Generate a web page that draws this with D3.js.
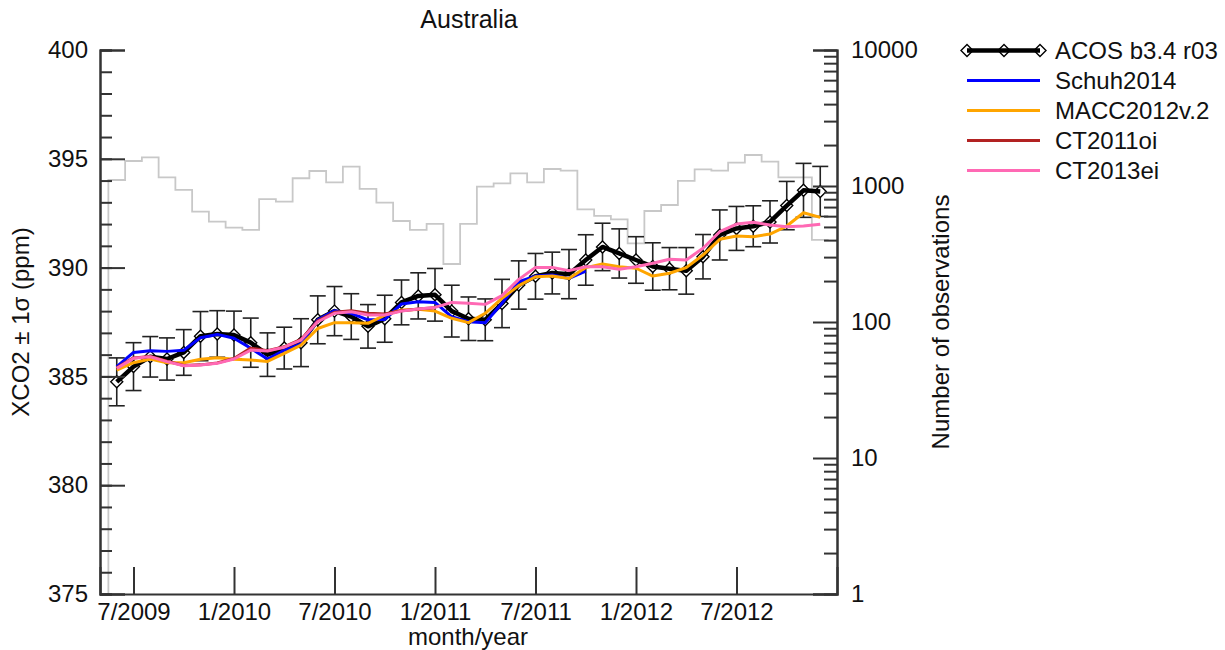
<!DOCTYPE html>
<html><head><meta charset="utf-8">
<script src="https://cdn.jsdelivr.net/npm/d3@7/dist/d3.min.js"></script>
<style>
body{margin:0;background:#fff;}
text{font-family:"Liberation Sans",Arial,Helvetica,sans-serif;fill:#111;}
</style></head><body>
<svg id="c" width="1225" height="650"></svg>
<script>
// ---- data ----
const months = ["2009-06","2009-07","2009-08","2009-09","2009-10","2009-11","2009-12",
"2010-01","2010-02","2010-03","2010-04","2010-05","2010-06","2010-07","2010-08","2010-09","2010-10","2010-11","2010-12",
"2011-01","2011-02","2011-03","2011-04","2011-05","2011-06","2011-07","2011-08","2011-09","2011-10","2011-11","2011-12",
"2012-01","2012-02","2012-03","2012-04","2012-05","2012-06","2012-07","2012-08","2012-09","2012-10","2012-11","2012-12"];
const acos = [384.75,385.45,385.9,385.8,386.1,386.85,386.95,386.9,386.55,386.0,386.3,386.55,387.6,388.0,387.75,387.3,387.65,388.4,388.7,388.75,388.0,387.65,387.6,388.35,389.2,389.6,389.75,389.7,390.35,390.95,390.65,390.35,390.05,389.95,389.85,390.5,391.5,391.8,391.9,392.1,392.85,393.55,393.5];
const acosSigma = [1.1,1.1,0.93,0.97,1.05,1.13,1.07,1.1,1.13,1.0,0.96,1.1,1.1,1.13,1.05,1.0,1.08,1.03,1.06,1.21,1.19,1.0,0.96,1.11,1.11,1.05,0.96,1.13,1.16,1.09,1.13,1.07,1.09,0.97,1.07,1.02,1.15,1.01,0.94,0.97,1.11,1.24,1.15];
const schuh = [385.45,386.1,386.18,386.15,386.2,386.78,386.93,386.75,386.29,385.8,386.2,386.49,387.6,388.02,387.9,387.6,387.62,388.33,388.43,388.4,387.74,387.51,387.47,388.36,389.35,389.61,389.66,389.5,389.84];
const macc = [385.29,385.63,385.8,385.63,385.63,385.79,385.86,385.79,385.75,385.69,386.06,386.44,387.2,387.47,387.47,387.44,387.82,388.05,388.08,388.0,387.67,387.47,387.9,388.59,389.17,389.58,389.61,389.5,390.0,390.17,390.04,389.97,389.61,389.74,390.0,390.58,391.3,391.45,391.42,391.54,391.91,392.52,392.31];
const ct2011 = [385.4,385.85,385.92,385.7,385.5,385.53,385.62,385.82,386.3,386.18,386.36,386.7,387.55,387.95,388.02,387.9,387.87,388.02,388.1,388.15];
const ct2013 = [385.37,385.83,385.9,385.68,385.49,385.52,385.6,385.8,386.21,386.17,386.34,386.67,387.51,387.9,387.97,387.82,387.82,388.0,388.1,388.17,388.4,388.36,388.31,388.71,389.46,390.01,390.01,389.86,390.04,390.04,389.92,390.04,390.2,390.38,390.35,390.89,391.65,392.0,392.08,391.96,391.88,391.91,391.99];
const nObs = [1107,1527,1626,1158,935,647,547,494,475,802,767,1140,1289,1064,1387,951,754,553,475,526,267,526,988,1047,1240,1064,1334,1297,674,602,569,379,655,725,1089,1327,1297,1484,1690,1510,1158,1158,401];
const xTickMonths = ["2009-07","2010-01","2010-07","2011-01","2011-07","2012-01","2012-07"];
const xTickLabels = ["7/2009","1/2010","7/2010","1/2011","7/2011","1/2012","7/2012"];
const xDomainMonths = ["2009-05","2013-01"];
const yMajor = [375,380,385,390,395,400];
const yRightMajor = [1,10,100,1000,10000];
const seriesNames = ["ACOS b3.4 r03","Schuh2014","MACC2012v.2","CT2011oi","CT2013ei"];
const seriesColors = ["#000000","#0000ff","#ffa500","#b22222","#ff69b4"];

// ---- helpers ----
const mIdx = s => { const [y,m] = s.split("-").map(Number); return (y-2009)*12 + (m-1); };
const svg = d3.select("#c");
const L=100, R=837, T=50, B=594;
const x = d3.scaleLinear().domain(xDomainMonths.map(mIdx)).range([L,R]);
const y = d3.scaleLinear().domain([375,400]).range([B,T]);
const yr = d3.scaleLog().domain([1,10000]).range([B,T]);
const mx = months.map(mIdx);
const FS = 24;

// histogram (steps)
const half = (x(1)-x(0))/2;
let hp = `M${x(mx[0])-half},${B}`;
nObs.forEach((v,i)=>{ hp += `L${x(mx[i])-half},${yr(v)}L${x(mx[i])+half},${yr(v)}`; });
svg.append("path").attr("d",hp).attr("fill","none").attr("stroke","#c8c8c8").attr("stroke-width",1.8);

// error bars
const eb = svg.append("g").attr("stroke","#222").attr("stroke-width",1.6);
acos.forEach((v,i)=>{
  const cx = x(mx[i]), y0 = y(v-acosSigma[i]), y1 = y(v+acosSigma[i]);
  eb.append("line").attr("x1",cx).attr("x2",cx).attr("y1",y0).attr("y2",y1);
  eb.append("line").attr("x1",cx-8).attr("x2",cx+8).attr("y1",y0).attr("y2",y0);
  eb.append("line").attr("x1",cx-8).attr("x2",cx+8).attr("y1",y1).attr("y2",y1);
});

const line = d3.line().x(d=>x(d[0])).y(d=>y(d[1]));
const pts = arr => arr.map((v,i)=>[mx[i],v]);

// ACOS diamonds, then line through them
const diamond = (cx,cy,r)=>`M${cx},${cy-r}L${cx+r},${cy}L${cx},${cy+r}L${cx-r},${cy}Z`;
acos.forEach((v,i)=>{
  svg.append("path").attr("d",diamond(x(mx[i]),y(v),6)).attr("fill","#fff").attr("stroke","#000").attr("stroke-width",1.4);
});
svg.append("path").attr("d",line(pts(acos))).attr("fill","none").attr("stroke","#000").attr("stroke-width",4.5).attr("stroke-linejoin","round");

// model lines
[[schuh,1],[macc,2],[ct2011,3],[ct2013,4]].forEach(([arr,k])=>{
  svg.append("path").attr("d",line(pts(arr))).attr("fill","none").attr("stroke",seriesColors[k]).attr("stroke-width",3).attr("stroke-linejoin","round");
});

// axes
function styleAxis(g){
  g.selectAll(".domain").attr("stroke","#333").attr("stroke-width",2);
  g.selectAll(".tick line").attr("stroke","#333").attr("stroke-width",2);
  g.selectAll("text").attr("font-size",FS).attr("fill","#111").attr("font-family",'"Liberation Sans",Arial,sans-serif');
}
// left minor
const gLm = svg.append("g").attr("transform",`translate(${L},0)`)
  .call(d3.axisLeft(y).tickValues(d3.range(375,401,1)).tickSize(-12).tickFormat(""));
styleAxis(gLm);
const gL = svg.append("g").attr("transform",`translate(${L},0)`)
  .call(d3.axisLeft(y).tickValues(yMajor).tickSize(-25).tickPadding(12).tickFormat(d3.format("d")));
styleAxis(gL);
// right minor
const minorR = [];
for (let d=1; d<10000; d*=10) for (let k=2;k<10;k++) minorR.push(d*k);
const gRm = svg.append("g").attr("transform",`translate(${R},0)`)
  .call(d3.axisRight(yr).tickValues(minorR).tickSize(-13).tickFormat(""));
styleAxis(gRm);
const gR = svg.append("g").attr("transform",`translate(${R},0)`)
  .call(d3.axisRight(yr).tickValues(yRightMajor).tickSize(-24).tickPadding(14).tickFormat(d3.format("d")));
styleAxis(gR);
// bottom
const gB = svg.append("g").attr("transform",`translate(0,${B})`)
  .call(d3.axisBottom(x).tickValues(xTickMonths.map(mIdx)).tickSize(-27).tickFormat((d,i)=>xTickLabels[i]));
styleAxis(gB);
gB.selectAll("text").attr("y",26).attr("dy","0");

// titles
svg.append("text").attr("x",469).attr("y",28).attr("text-anchor","middle").attr("font-size",25).text("Australia");
svg.append("text").attr("x",468).attr("y",645).attr("text-anchor","middle").attr("font-size",FS).text("month/year");
svg.append("text").attr("transform","translate(29,322) rotate(-90)").attr("text-anchor","middle").attr("font-size",FS).text("XCO2 ± 1σ (ppm)");
svg.append("text").attr("transform","translate(949,322) rotate(-90)").attr("text-anchor","middle").attr("font-size",FS).text("Number of observations");

// legend
const lg = svg.append("g");
seriesNames.forEach((n,i)=>{
  const yy = 50.5 + i*30;
  if(i===0){ [967,1004,1040].forEach(cx=>lg.append("path").attr("d",diamond(cx,yy,6)).attr("fill","#fff").attr("stroke","#000").attr("stroke-width",1.4)); }
  lg.append("line").attr("x1",967).attr("x2",1040).attr("y1",yy).attr("y2",yy)
    .attr("stroke",seriesColors[i]).attr("stroke-width", i===0?4.5:3);
  lg.append("text").attr("x",1055).attr("y",yy).attr("dy","0.35em").attr("font-size",FS).text(n);
});
</script></body></html>
